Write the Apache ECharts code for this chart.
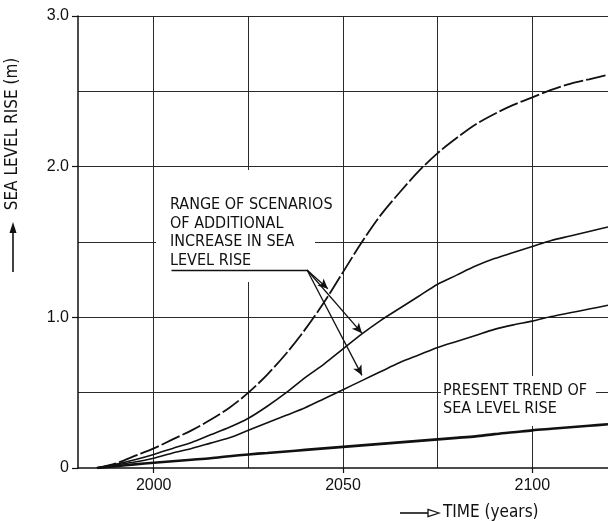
<!DOCTYPE html>
<html>
<head>
<meta charset="utf-8">
<script src="https://cdn.jsdelivr.net/npm/echarts@6/dist/echarts.min.js"></script>
<style>
  html, body { margin: 0; padding: 0; background: #fff; }
  #chart { width: 608px; height: 522px; }
</style>
</head>
<body>
<div id="chart"></div>
<script>
// Sea level rise scenarios (m) against time (years)
const years = [1985, 1990, 1995, 2000, 2005, 2010, 2015, 2020, 2025, 2030, 2035, 2040, 2045, 2050,
               2055, 2060, 2065, 2070, 2075, 2080, 2085, 2090, 2095, 2100, 2105, 2110, 2115, 2120];
const highScenario   = [0, 0.03, 0.08, 0.13, 0.19, 0.25, 0.32, 0.40, 0.50, 0.62, 0.76, 0.92, 1.10, 1.30,
                        1.50, 1.68, 1.83, 1.97, 2.09, 2.19, 2.28, 2.35, 2.41, 2.46, 2.51, 2.55, 2.58, 2.61];
const middleScenario = [0, 0.025, 0.055, 0.09, 0.13, 0.17, 0.22, 0.27, 0.33, 0.41, 0.50, 0.60, 0.69, 0.79,
                        0.89, 0.98, 1.06, 1.14, 1.22, 1.28, 1.34, 1.39, 1.43, 1.47, 1.51, 1.54, 1.57, 1.60];
const lowScenario    = [0, 0.02, 0.04, 0.065, 0.10, 0.13, 0.165, 0.20, 0.25, 0.30, 0.35, 0.40, 0.46, 0.52,
                        0.58, 0.64, 0.70, 0.75, 0.80, 0.84, 0.88, 0.92, 0.95, 0.975, 1.005, 1.03, 1.055, 1.08];
const presentTrend   = [0, 0.012, 0.024, 0.035, 0.045, 0.055, 0.065, 0.078, 0.09, 0.10, 0.11, 0.12, 0.13, 0.14,
                        0.15, 0.16, 0.17, 0.18, 0.19, 0.20, 0.21, 0.225, 0.237, 0.25, 0.26, 0.27, 0.28, 0.29];

const gridYears = [2000, 2025, 2050, 2075, 2100];
const gridLevels = [0.5, 1.0, 1.5, 2.0, 2.5, 3.0];
const xTickLabels = [2000, 2050, 2100];
const yTickLabels = [0, 1, 2, 3];

// Leader lines from the scenario note to the three scenario curves
const noteAnchor = [2040.5, 1.314];
const noteUnderlineStart = [2004.7, 1.314];
const arrowTargets = [[2046, 1.19], [2055, 0.895], [2055, 0.615]];

const FONT = '"Liberation Sans Narrow", "DejaVu Sans Condensed", "Liberation Sans", Arial, sans-serif';
const TICK_FONT = '"Liberation Sans", Arial, sans-serif';
const INK = '#111';
const GRID = '#2a2a2a';

const pairs = vals => years.map((y, i) => [y, vals[i]]);

const chart = echarts.init(document.getElementById('chart'), null, { renderer: 'canvas' });

chart.setOption({
  animation: false,
  backgroundColor: '#fff',
  grid: { left: 78, right: 0, top: 16, bottom: 54, containLabel: false },
  xAxis: {
    type: 'value', min: 1980, max: 2120,
    axisLine: { show: true, onZero: false, lineStyle: { color: INK, width: 1.5 } },
    axisTick: { show: true, customValues: xTickLabels, length: 5, inside: false, lineStyle: { color: INK, width: 1.2 } },
    axisLabel: { customValues: xTickLabels, color: INK, fontFamily: TICK_FONT, fontSize: 16, margin: 10, formatter: v => String(v) },
    splitLine: { show: false }
  },
  yAxis: {
    type: 'value', min: 0, max: 3,
    axisLine: { show: true, lineStyle: { color: INK, width: 1.5 } },
    axisTick: { show: true, customValues: yTickLabels, length: 6, lineStyle: { color: INK, width: 1.2 } },
    axisLabel: {
      customValues: yTickLabels, color: INK, fontFamily: TICK_FONT, fontSize: 16, margin: 9,
      formatter: v => (v === 0 ? '0' : v.toFixed(1))
    },
    splitLine: { show: false }
  },
  series: [
    {
      name: 'gridlines', type: 'line', data: [], silent: true, z: 0,
      markLine: {
        silent: true, z: 0, symbol: ['none', 'none'], label: { show: false },
        lineStyle: { color: GRID, width: 1, type: 'solid' },
        data: gridYears.map(y => ({ xAxis: y })).concat(gridLevels.map(v => ({ yAxis: v })))
      }
    },
    {
      name: 'high', type: 'line', smooth: 0.3, showSymbol: false, data: pairs(highScenario),
      lineStyle: { color: INK, width: 1.8, type: [20, 3] }, z: 3
    },
    {
      name: 'middle', type: 'line', smooth: 0.3, showSymbol: false, data: pairs(middleScenario),
      lineStyle: { color: INK, width: 1.6 }, z: 3
    },
    {
      name: 'low', type: 'line', smooth: 0.3, showSymbol: false, data: pairs(lowScenario),
      lineStyle: { color: INK, width: 1.6 }, z: 3,
      markLine: {
        silent: true, z: 4, label: { show: false }, symbol: ['none', 'arrow'], symbolSize: [7, 10],
        lineStyle: { color: INK, width: 1.3, type: 'solid' },
        data: [
          [{ coord: noteUnderlineStart, symbol: 'none' }, { coord: noteAnchor, symbol: 'none' }]
        ].concat(arrowTargets.map(t => [{ coord: noteAnchor }, { coord: t }]))
      }
    },
    {
      name: 'present', type: 'line', smooth: 0.3, showSymbol: false, data: pairs(presentTrend),
      lineStyle: { color: INK, width: 2.6 }, z: 3
    }
  ],
  graphic: [
    // white panels behind the two notes
    { type: 'rect', z: 1, shape: { x: 156, y: 170, width: 159, height: 112 }, style: { fill: '#fff' } },
    { type: 'rect', z: 1, shape: { x: 441, y: 376, width: 155, height: 50 }, style: { fill: '#fff' } },
    {
      type: 'text', z: 5, left: 170, top: 196,
      style: {
        text: 'RANGE OF SCENARIOS\nOF ADDITIONAL\nINCREASE IN SEA\nLEVEL RISE',
        fill: INK, font: '16px ' + FONT, lineHeight: 18.5
      }
    },
    {
      type: 'text', z: 5, left: 443, top: 382,
      style: { text: 'PRESENT TREND OF\nSEA LEVEL RISE', fill: INK, font: '16px ' + FONT, lineHeight: 18 }
    },
    // axis titles
    {
      type: 'text', z: 5, x: 13, y: 134, rotation: Math.PI / 2,
      style: { text: 'SEA LEVEL RISE (m)', fill: INK, font: '17px ' + FONT, align: 'center', verticalAlign: 'middle' }
    },
    { type: 'line', z: 5, shape: { x1: 13, y1: 272, x2: 13, y2: 232 }, style: { stroke: INK, lineWidth: 1.6 } },
    { type: 'polygon', z: 5, shape: { points: [[13, 222], [9.5, 233], [16.5, 233]] }, style: { fill: INK } },
    {
      type: 'text', z: 5, left: 443, top: 504,
      style: { text: 'TIME (years)', fill: INK, font: '17px ' + FONT }
    },
    { type: 'line', z: 5, shape: { x1: 400, y1: 513, x2: 430, y2: 513 }, style: { stroke: INK, lineWidth: 1.6 } },
    { type: 'polygon', z: 5, shape: { points: [[439, 513], [428, 509.5], [428, 516.5]] }, style: { fill: '#fff', stroke: INK, lineWidth: 1.3 } }
  ]
});
</script>
</body>
</html>
